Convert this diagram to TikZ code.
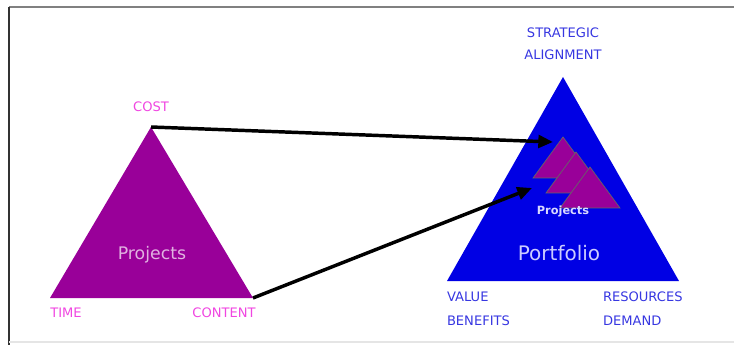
\documentclass[tikz,border=0pt]{standalone}
\usepackage{fontspec}
\setmainfont{DejaVu Sans}
\usetikzlibrary{arrows.meta}
\definecolor{projpurple}{RGB}{153,0,153}
\definecolor{portblue}{RGB}{0,0,228}
\definecolor{pinktext}{RGB}{240,70,225}
\definecolor{bluetext}{RGB}{55,55,225}
\begin{document}
\begin{tikzpicture}[x=0.75pt, y=-0.75pt, line width = 1.5pt,
    corner/.style={font=\fontsize{9.8}{16.5}\selectfont, inner sep=0pt},
    pinklabel/.style={corner, text=pinktext},
    bluelabel/.style={corner, text=bluetext, align=left},
    link/.style={black, line width=2.6pt, -{Triangle[length=11pt,width=9.5pt]}}]
\useasboundingbox (0,0) rectangle (734,345);
% frame
\draw[gray, line width=2pt] (9,7) -- (734,7);
\draw[black!80, line width=1.5pt] (9,7) -- (9,345);
\draw[black!10, line width=0.8pt] (9,342) -- (734,342);
% project triangle
\coordinate (cost) at (151,127);
\coordinate (time) at (50,298);
\coordinate (content) at (253,298);
\fill[projpurple] (cost) -- (time) -- (content) -- cycle;
\draw (151,107) node[pinklabel](l1){COST}
    (66,313) node[pinklabel](l2){TIME}
    (224,313) node[pinklabel](l3){CONTENT}
    (152,255) node[text=projpurple!30, font=\fontsize{13}{15}\selectfont](p1){Projects};
% portfolio triangle
\coordinate (align) at (563,77);
\coordinate (value) at (447,281);
\coordinate (demand) at (679,281);
\fill[portblue] (align) -- (value) -- (demand) -- cycle;
\draw (563,44) node[bluelabel, align=center](l4){STRATEGIC\\ALIGNMENT}
    (446,309) node[bluelabel, anchor=west, font=\fontsize{9.8}{18}\selectfont](l5){VALUE\\BENEFITS}
    (602,309) node[bluelabel, anchor=west, font=\fontsize{9.8}{18}\selectfont](l6){RESOURCES\\DEMAND}
    (559,253) node[text=blue!20, font=\fontsize{15}{17}\selectfont](p2){Portfolio};
% small projects
\foreach \x/\y in {563/137, 576/152, 590/167}
    \filldraw[fill=projpurple, draw=black!60, line width=0.5pt]
        (\x,\y) -- ++(-30,41) -- ++(60,0) -- cycle;
\draw (563,211) node[text=blue!15, font=\fontsize{8.5}{10}\selectfont\bfseries](p3){Projects};
\coordinate (in1) at (553,142);
\coordinate (in2) at (532,188);
\draw[link] (cost) -- (in1);
\draw[link] (content) -- (in2);
\end{tikzpicture}
\end{document}
